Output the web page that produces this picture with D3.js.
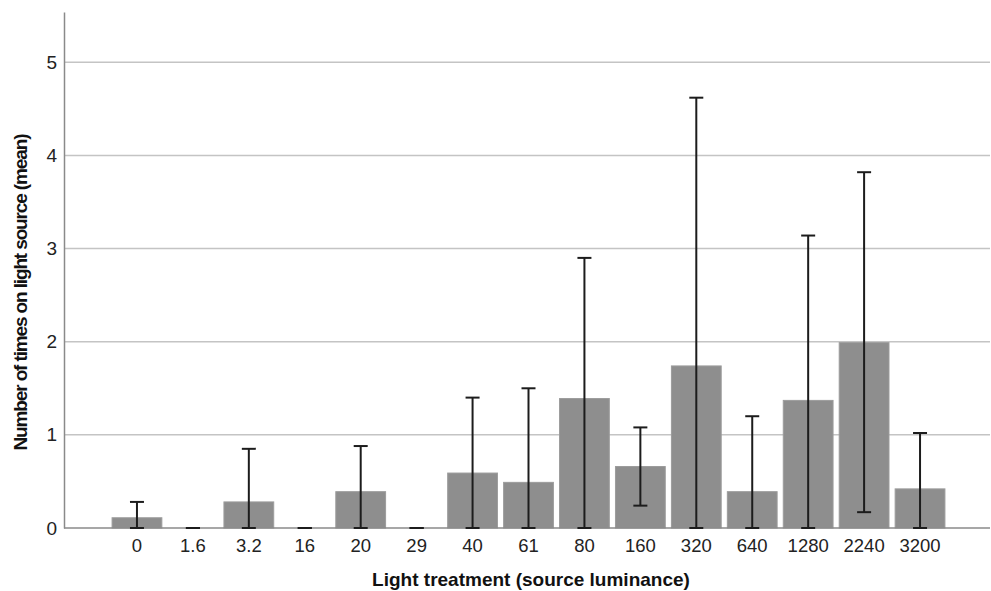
<!DOCTYPE html>
<html>
<head>
<meta charset="utf-8">
<script src="https://cdn.jsdelivr.net/npm/d3@7"></script>
<style>
  body { margin: 0; background: #ffffff; }
  text { font-family: "Liberation Sans", Arial, sans-serif; }
</style>
</head>
<body>
<svg></svg>
<script>
// categories (light treatment) and means
let treatments = ["0", "1.6", "3.2", "16", "20", "29", "40", "61", "80", "160", "320", "640", "1280", "2240", "3200"]
let means = [0.11, 0, 0.28, 0, 0.39, 0, 0.59, 0.49, 1.39, 0.66, 1.74, 0.39, 1.37, 1.99, 0.42]
let errLow = [0, 0, 0, 0, 0, 0, 0, 0, 0, 0.24, 0, 0, 0, 0.17, 0]
let errHigh = [0.28, 0, 0.85, 0, 0.88, 0, 1.4, 1.5, 2.9, 1.08, 4.62, 1.2, 3.14, 3.82, 1.02]
let yTicks = [0, 1, 2, 3, 4, 5]

let width = 991
let height = 591
let plotLeft = 64
let plotRight = 990
let plotTop = 12
let plotBottom = 528

let svg = d3.select("svg")
    .attr("width", width)
    .attr("height", height)

let xScale = d3.scaleBand()
    .domain(treatments)
    .range([109, 948])
    .paddingInner(0.11)
    .paddingOuter(0.055)

let yScale = d3.scaleLinear()
    .domain([0, 5.54])
    .range([plotBottom, plotTop])

// grid lines
svg.append("g")
    .selectAll("line")
    .data(yTicks.filter(d => d > 0))
    .enter()
    .append("line")
    .attr("x1", plotLeft)
    .attr("x2", plotRight)
    .attr("y1", d => yScale(d))
    .attr("y2", d => yScale(d))
    .attr("stroke", "#c4c4c4")
    .attr("stroke-width", 1.5)

let data = treatments.map((t, i) => ({t: t, m: means[i], lo: errLow[i], hi: errHigh[i]}))

// bars
svg.append("g")
    .selectAll("rect")
    .data(data.filter(d => d.m > 0))
    .enter()
    .append("rect")
    .attr("x", d => xScale(d.t))
    .attr("y", d => yScale(d.m))
    .attr("width", xScale.bandwidth())
    .attr("height", d => yScale(0) - yScale(d.m))
    .attr("fill", "#8e8e8e")
    .attr("stroke", "#9c9c9c")
    .attr("stroke-width", 1)

// y axis
let yAxis = d3.axisLeft(yScale)
    .tickValues(yTicks)
    .tickSize(0)
    .tickPadding(7)
    .tickFormat(d3.format("d"))

let gy = svg.append("g")
    .attr("transform", "translate(" + plotLeft + ",0)")
    .call(yAxis)
gy.select(".domain").attr("stroke", "#8a8a8a").attr("stroke-width", 1.5)
gy.selectAll("text").style("font-size", "19px").attr("fill", "#222")

// x axis
let xAxis = d3.axisBottom(xScale).tickSize(0).tickPadding(11)
let gx = svg.append("g")
    .attr("transform", "translate(0," + plotBottom + ")")
    .call(xAxis)
gx.select(".domain").remove()
gx.append("line")
    .attr("x1", plotLeft)
    .attr("x2", plotRight)
    .attr("stroke", "#8a8a8a")
    .attr("stroke-width", 1.5)
gx.selectAll("text").style("font-size", "18.5px").attr("fill", "#222")

// error bars
let cap = 7
let eb = svg.append("g")
    .selectAll("g")
    .data(data)
    .enter()
    .append("g")
    .attr("stroke", "#1c1c1c")
    .attr("stroke-width", 2)
let cx = d => xScale(d.t) + xScale.bandwidth() / 2
eb.append("line")
    .attr("x1", cx).attr("x2", cx)
    .attr("y1", d => yScale(d.lo)).attr("y2", d => yScale(d.hi))
eb.append("line")
    .attr("x1", d => cx(d) - cap).attr("x2", d => cx(d) + cap)
    .attr("y1", d => yScale(d.hi)).attr("y2", d => yScale(d.hi))
eb.append("line")
    .attr("x1", d => cx(d) - cap).attr("x2", d => cx(d) + cap)
    .attr("y1", d => yScale(d.lo)).attr("y2", d => yScale(d.lo))

// axis titles
svg.append("text")
    .attr("x", 531)
    .attr("y", 586)
    .attr("text-anchor", "middle")
    .style("font-size", "19px")
    .style("font-weight", "bold")
    .attr("fill", "#111")
    .text("Light treatment (source luminance)")

svg.append("text")
    .attr("transform", "translate(27, 292) rotate(-90)")
    .attr("text-anchor", "middle")
    .attr("textLength", 317)
    .attr("lengthAdjust", "spacing")
    .style("font-size", "19px")
    .style("font-weight", "bold")
    .attr("fill", "#111")
    .text("Number of times on light source (mean)")
</script>
</body>
</html>
